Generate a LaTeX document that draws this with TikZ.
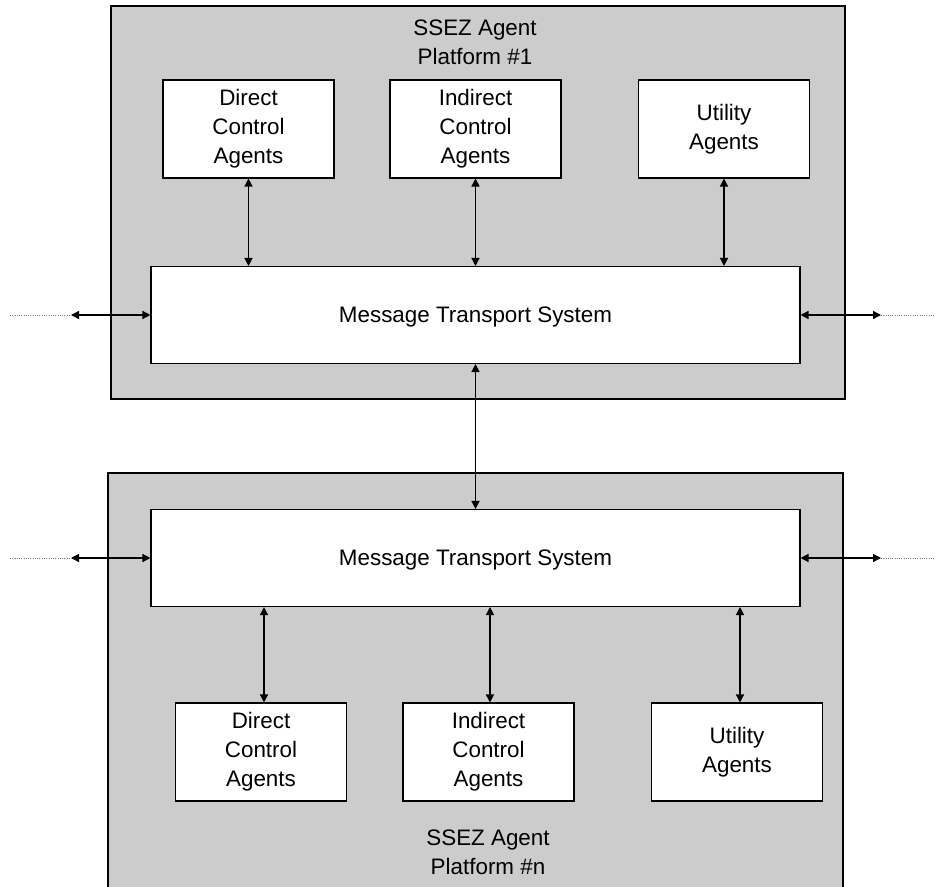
\documentclass[tikz,border=0pt]{standalone}
\usepackage{fontspec}
\setmainfont{Liberation Sans}
\usetikzlibrary{arrows.meta}
\begin{document}
\begin{tikzpicture}[x=0.75pt,y=-0.75pt,
  font=\fontsize{16.8}{21.75}\selectfont,
  platform/.style={draw=black, line width=1.3pt, fill=gray!40, inner sep=0pt},
  box/.style={draw=black, line width=0.8pt, fill=white, inner sep=0pt, align=center},
  agentbox/.style={box, minimum width={171*0.75pt}, minimum height={98*0.75pt}},
  mtsbox/.style={box, minimum width={649*0.75pt}, minimum height={97*0.75pt}, text depth=0pt},
  lbl/.style={align=center, inner sep=0pt},
  link/.style={line width=1pt, {Triangle[length=6pt,width=6pt]}-{Triangle[length=6pt,width=6pt]}},
  ext/.style={densely dotted, black!55, line width=0.7pt}]
\clip (0,0) rectangle (935,887);
\fill[white] (0,0) rectangle (935,887);
% platform #1
\node[platform, minimum width={734*0.75pt}, minimum height={393*0.75pt}] (p1) at (478,202.5) {};
\node[lbl] (t1) at (475,42) {SSEZ Agent\\Platform \#1};
\node[agentbox] (d1) at (248.5,129) {Direct\\Control\\Agents};
\node[agentbox] (i1) at (475.5,129) {Indirect\\Control\\Agents};
\node[agentbox] (u1) at (724,129) {Utility\\Agents};
\node[mtsbox] (m1) at (475.5,315) {Message Transport System};
% platform #n
\node[platform, minimum width={735*0.75pt}, minimum height={430*0.75pt}] (p2) at (475.5,688) {};
\node[lbl] (t2) at (488,852) {SSEZ Agent\\Platform \#n};
\node[mtsbox] (m2) at (475.5,558) {Message Transport System};
\node[agentbox] (d2) at (261,752) {Direct\\Control\\Agents};
\node[agentbox] (i2) at (488.5,752) {Indirect\\Control\\Agents};
\node[agentbox] (u2) at (737,752) {Utility\\Agents};
% links inside platform #1
\draw[link] (d1.south) -- (d1.south |- m1.north);
\draw[link] (i1.south) -- (i1.south |- m1.north);
\draw[link] (u1.south) -- (u1.south |- m1.north);
% links inside platform #n
\draw[link] ([xshift=2.25pt]d2.north) -- ([xshift=2.25pt]d2.north |- m2.south);
\draw[link] ([xshift=1.1pt]i2.north) -- ([xshift=1.1pt]i2.north |- m2.south);
\draw[link] ([xshift=2.25pt]u2.north) -- ([xshift=2.25pt]u2.north |- m2.south);
% between platforms
\draw[link] (m1.south) -- (m2.north);
% external links
\coordinate (l1) at (71,315);
\coordinate (l1d) at (10,315);
\coordinate (r1) at (881,315);
\coordinate (r1d) at (935,315);
\coordinate (l2) at (71,558);
\coordinate (l2d) at (10,558);
\coordinate (r2) at (881,558);
\coordinate (r2d) at (935,558);
\draw[ext] (l1d) -- (l1);
\draw[ext] (r1) -- (r1d);
\draw[ext] (l2d) -- (l2);
\draw[ext] (r2) -- (r2d);
\draw[link] (l1) -- (m1.west);
\draw[link] (m1.east) -- (r1);
\draw[link] (l2) -- (m2.west);
\draw[link] (m2.east) -- (r2);
\end{tikzpicture}
\end{document}
